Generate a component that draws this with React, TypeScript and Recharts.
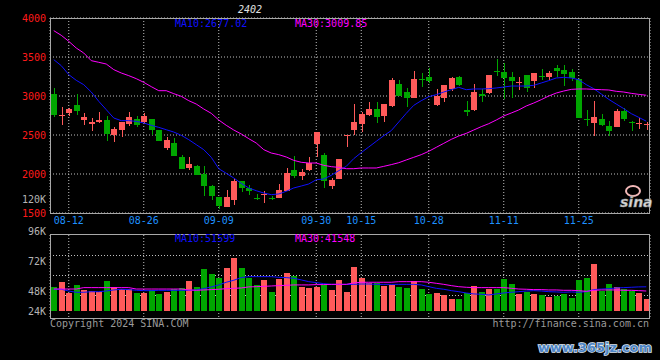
import React from "react";
import { ComposedChart, Bar, Line, XAxis, YAxis, CartesianGrid } from "recharts";

const dates = [
  "08-08", "08-09", "08-12", "08-13", "08-14", "08-15", "08-16", "08-19", "08-20", "08-21",
  "08-22", "08-23", "08-26", "08-27", "08-28", "08-29", "08-30", "09-02", "09-03", "09-04",
  "09-05", "09-06", "09-09", "09-10", "09-11", "09-12", "09-13", "09-18", "09-19", "09-20",
  "09-23", "09-24", "09-25", "09-26", "09-27", "09-30", "10-08", "10-09", "10-10", "10-11",
  "10-14", "10-15", "10-16", "10-17", "10-18", "10-21", "10-22", "10-23", "10-24", "10-25",
  "10-28", "10-29", "10-30", "10-31", "11-01", "11-04", "11-05", "11-06", "11-07", "11-08",
  "11-11", "11-12", "11-13", "11-14", "11-15", "11-18", "11-19", "11-20", "11-21", "11-22",
  "11-25", "11-26", "11-27", "11-28", "11-29", "12-02", "12-03", "12-04", "12-05", "12-06",
];

const opens = [
  3030, 2750, 2787, 2889, 2697, 2645, 2667, 2697, 2496, 2568,
  2645, 2709, 2662, 2709, 2568, 2338, 2402, 2222, 2081, 2107,
  2004, 1850, 1709, 1581, 1671, 1915, 1816, 1697, 1735, 1697,
  1688, 1778, 2056, 1970, 2056, 2389, 2248, 1842, 1932, 2491,
  2560, 2645, 2761, 2838, 2748, 2868, 3158, 3056, 2970, 3222,
  3248, 2889, 2970, 3094, 3248, 2825, 2825, 3030, 3038, 3325,
  3312, 3248, 3171, 3273, 3188, 3256, 3248, 3363, 3338, 3312,
  3222, 2701, 2650, 2709, 2611, 2598, 2812, 2671, 2645, 2632,
];
const highs = [
  3107, 2859, 2850, 3030, 2786, 2722, 2799, 2748, 2607, 2671,
  2799, 2748, 2786, 2709, 2568, 2479, 2466, 2248, 2222, 2120,
  2107, 1863, 1709, 1799, 1953, 1915, 1863, 1748, 1786, 1722,
  1876, 2081, 2235, 2068, 2222, 2543, 2274, 1953, 2197, 2500,
  2902, 2799, 2927, 2927, 2902, 3235, 3209, 3107, 3325, 3299,
  3363, 3094, 3145, 3248, 3261, 2940, 3158, 3094, 3273, 3479,
  3427, 3312, 3248, 3273, 3299, 3350, 3325, 3402, 3402, 3350,
  3222, 2825, 2940, 2774, 2684, 2838, 2850, 2684, 2722, 2662,
];
const lows = [
  2727, 2624, 2739, 2761, 2624, 2556, 2658, 2427, 2406, 2470,
  2620, 2603, 2645, 2504, 2419, 2312, 2235, 2068, 2056, 1991,
  1714, 1671, 1556, 1581, 1607, 1765, 1735, 1662, 1632, 1671,
  1688, 1778, 1944, 1919, 2043, 2222, 1816, 1803, 1932, 2342,
  2496, 2543, 2748, 2650, 2671, 2855, 3004, 2855, 2970, 3120,
  3171, 2876, 2927, 3068, 3133, 2739, 2803, 2927, 3030, 3256,
  2962, 2974, 3077, 3051, 3107, 3201, 3209, 3248, 3128, 3197,
  2714, 2611, 2483, 2611, 2483, 2598, 2675, 2547, 2573, 2560,
];
const closes = [
  2752, 2755, 2838, 2812, 2735, 2671, 2688, 2517, 2581, 2662,
  2735, 2632, 2748, 2568, 2419, 2440, 2235, 2068, 2132, 1991,
  1842, 1722, 1594, 1709, 1915, 1816, 1778, 1692, 1748, 1688,
  1799, 2017, 1979, 2030, 2145, 2543, 1915, 1927, 2197, 2500,
  2662, 2774, 2838, 2726, 2902, 3209, 3004, 2979, 3222, 3209,
  3197, 3004, 3145, 3235, 3145, 2791, 3056, 3004, 3273, 3312,
  3235, 3197, 3184, 3107, 3299, 3244, 3299, 3325, 3286, 3235,
  2714, 2692, 2735, 2624, 2547, 2812, 2701, 2658, 2654, 2641,
];
const ma10 = [
  3466, 3389, 3274, 3201, 3145, 3051, 2932, 2825, 2718, 2684,
  2684, 2675, 2654, 2624, 2598, 2568, 2538, 2496, 2440, 2376,
  2312, 2214, 2068, 2009, 1949, 1880, 1821, 1786, 1756, 1735,
  1744, 1778, 1821, 1846, 1872, 1927, 1936, 1983, 2043, 2098,
  2197, 2274, 2346, 2419, 2491, 2556, 2667, 2778, 2880, 2940,
  2991, 3017, 3051, 3081, 3111, 3081, 3090, 3090, 3094, 3103,
  3115, 3128, 3128, 3128, 3137, 3167, 3197, 3231, 3239, 3231,
  3209, 3145, 3094, 3026, 2957, 2897, 2838, 2774, 2726, 2677,
];
const ma30 = [
  3838, 3778, 3701, 3615, 3551, 3453, 3432, 3410, 3338, 3295,
  3261, 3222, 3175, 3120, 3068, 3068, 3030, 2996, 2940, 2897,
  2833, 2778, 2692, 2624, 2564, 2513, 2453, 2397, 2312, 2269,
  2248, 2218, 2175, 2150, 2141, 2141, 2111, 2094, 2085, 2068,
  2068, 2077, 2077, 2077, 2098, 2120, 2145, 2180, 2214, 2248,
  2291, 2342, 2393, 2444, 2487, 2521, 2564, 2607, 2645, 2692,
  2744, 2782, 2821, 2872, 2910, 2953, 3000, 3038, 3064, 3085,
  3090, 3090, 3085, 3081, 3077, 3060, 3051, 3034, 3021, 3010,
];
const volumes = [
  51200, 55500, 46000, 52900, 48600, 47700, 46900, 56300, 51200, 49500,
  49500, 46000, 46000, 48600, 45200, 46900, 49500, 50300, 56300, 51200,
  66600, 62300, 58900, 67500, 76000, 67500, 58900, 52900, 57200, 46900,
  58000, 63200, 60600, 51200, 50300, 51200, 52900, 48600, 57200, 46900,
  68300, 58900, 54600, 54600, 52000, 52900, 51200, 50300, 56300, 49500,
  45200, 46000, 44300, 40900, 40900, 46000, 52000, 46900, 49500, 49500,
  58000, 53700, 45200, 46900, 45200, 44300, 42600, 43500, 45200, 41700,
  57200, 58900, 70900, 47700, 53700, 51200, 49500, 47700, 46000, 40900,
];
const volMa10 = [
  49500, 49500, 48000, 46900, 46900, 47400, 47400, 48000, 48900, 49500,
  49200, 48600, 48300, 48300, 48600, 48600, 48600, 48600, 48600, 48900,
  50000, 51500, 53200, 55500, 57200, 59500, 60300, 60300, 60300, 60300,
  59700, 59500, 58900, 57500, 56000, 55200, 54300, 53700, 53700, 53700,
  53700, 54000, 54000, 53700, 53700, 53700, 53700, 53700, 53700, 53200,
  51700, 50300, 49500, 48300, 47400, 46300, 45500, 45200, 44600, 45500,
  46300, 46900, 47400, 48000, 48300, 48000, 47400, 47200, 46900, 47200,
  46900, 47400, 49200, 49700, 50000, 50600, 50900, 51200, 51500, 51600,
];
const volMa30 = [
  49700, 49700, 49700, 49700, 50900, 50900, 50900, 50900, 50900, 50900,
  50900, 49700, 49700, 49700, 49700, 49700, 49700, 49700, 48900, 48600,
  48900, 49200, 49500, 50000, 50300, 50600, 51500, 51700, 52000, 52300,
  52600, 52900, 53200, 53200, 53200, 53500, 53500, 53700, 53700, 53700,
  54900, 55500, 55500, 55500, 55500, 55500, 56000, 56000, 56000, 56000,
  55500, 54600, 53700, 52600, 51700, 51200, 50900, 50900, 50900, 50900,
  50900, 50300, 49700, 49500, 49200, 49200, 48900, 48900, 48600, 48600,
  48300, 47700, 48600, 48900, 48900, 48900, 48600, 48600, 48300, 48000,
];

const dateTicks = ["08-12", "08-26", "09-09", "09-30", "10-15", "10-28", "11-11", "11-25"];
const priceTicks = [1500, 2000, 2500, 3000, 3500, 4000];
const volTicks = [24000, 48000, 72000, 96000];
const VOL_BASE = 30900; // sina draws the bars a little above the panel floor

const RED = "#ff5a5a";
const GREEN = "#00a600";
const GRID = "#c0c0c0";
const FRAME = "#a8a8a8";
const MONO = '"DejaVu Sans Mono", monospace';

const data = dates.map((date, i) => ({
  date,
  open: opens[i],
  high: highs[i],
  low: lows[i],
  close: closes[i],
  ma10: ma10[i],
  ma30: ma30[i],
  vol: volumes[i],
  vma10: volMa10[i],
  vma30: volMa30[i],
}));

const Candle = (props: any) => {
  const { x, y, width, height, payload } = props;
  if (!payload || x == null) return null;
  const { open, close, high, low } = payload;
  const color = close >= open ? RED : GREEN;
  let top = y;
  let h = height;
  if (h < 0) {
    top = y + h;
    h = -h;
  }
  const k = high > low ? h / (high - low) : 0;
  const py = (v: number) => top + (high - v) * k;
  const bTop = Math.round(py(Math.max(open, close)));
  const bBot = Math.round(py(Math.min(open, close)));
  const rx = Math.round(x);
  const w = Math.round(width);
  const wx = rx + Math.floor(w / 2) + 0.5;
  return (
    <g shapeRendering="crispEdges">
      <line x1={wx} x2={wx} y1={Math.round(top)} y2={Math.round(top + h)} stroke={color} strokeWidth={1} />
      <rect x={rx} y={bTop} width={w} height={Math.max(bBot - bTop, 1)} fill={color} />
    </g>
  );
};

const VolBar = (props: any) => {
  const { x, y, width, height, payload } = props;
  if (!payload || x == null) return null;
  let top = y;
  let h = height;
  if (h < 0) {
    top = y + h;
    h = -h;
  }
  const color = payload.close >= payload.open ? RED : GREEN;
  const t = Math.round(top);
  return (
    <rect
      x={Math.round(x)}
      y={t}
      width={Math.round(width)}
      height={Math.round(top + h) - t}
      fill={color}
      shapeRendering="crispEdges"
    />
  );
};

// sina prints the outer volume labels a bit inside the panel
const VolTick = (props: any) => {
  const { x, y, payload } = props;
  const v = payload.value;
  const shift = v === 24000 ? -8 : v === 96000 ? -4 : v === 72000 ? -2 : 0;
  return (
    <text x={x} y={y + shift} dy="0.355em" textAnchor="end" fill="#b4b4b4" fontFamily={MONO} fontSize={10}>
      {`${v / 1000}K`}
    </text>
  );
};

export default function App() {
  const txt = { fontFamily: MONO, fontSize: 10 };
  return (
    <div style={{ position: "fixed", left: 0, top: 0, width: 660, height: 360, background: "#000", overflow: "hidden" }}>
      <div style={{ position: "absolute", left: 0, top: 0 }}>
        <ComposedChart width={660} height={230} data={data} margin={{ top: 18, right: 10, bottom: 0, left: 0 }}>
          <CartesianGrid stroke={GRID} strokeDasharray="1 2" />
          <XAxis
            dataKey="date"
            ticks={dateTicks}
            interval={0}
            height={17}
            tickLine={false}
            axisLine={false}
            tickSize={0}
            tickMargin={4}
            tick={{ ...txt, fill: "#1e90ff" }}
          />
          <YAxis
            domain={[1500, 4000]}
            ticks={priceTicks}
            width={50}
            tickLine={false}
            axisLine={false}
            tickSize={0}
            tickMargin={4}
            tick={{ ...txt, fill: "#ff1a1a" }}
            allowDataOverflow
          />
          <Bar dataKey={(d: any) => [d.low, d.high]} barSize={6} shape={<Candle />} isAnimationActive={false} />
          <Line dataKey="ma10" stroke="#1010ff" strokeWidth={1} dot={false} isAnimationActive={false} />
          <Line dataKey="ma30" stroke="#ff00ff" strokeWidth={1} dot={false} isAnimationActive={false} />
        </ComposedChart>
      </div>
      <div style={{ position: "absolute", left: 0, top: 220 }}>
        <ComposedChart width={660} height={110} data={data} margin={{ top: 15, right: 10, bottom: 11, left: 0 }}>
          <CartesianGrid stroke={GRID} strokeDasharray="1 2" horizontalPoints={[35.5, 55.5, 75.5]} />
          <XAxis dataKey="date" ticks={dateTicks} interval={0} hide />
          <YAxis
            domain={[24000, 96000]}
            ticks={volTicks}
            width={50}
            tickLine={false}
            axisLine={false}
            tickSize={0}
            tickMargin={4}
            tick={<VolTick />}
            allowDataOverflow
          />
          <Bar dataKey={(d: any) => [VOL_BASE, d.vol]} barSize={6} shape={<VolBar />} isAnimationActive={false} />
          <Line dataKey="vma10" stroke="#1010ff" strokeWidth={1} dot={false} isAnimationActive={false} />
          <Line dataKey="vma30" stroke="#ff00ff" strokeWidth={1} dot={false} isAnimationActive={false} />
        </ComposedChart>
      </div>
      <svg width={660} height={360} style={{ position: "absolute", left: 0, top: 0, pointerEvents: "none" }}>
        <rect x={50.5} y={18.5} width={599} height={195} fill="none" stroke={FRAME} />
        <rect x={50.5} y={234.5} width={599} height={84} fill="none" stroke={FRAME} />
        <text x={238} y={13} fill="#e0e0e0" fontStyle="italic" {...txt}>2402</text>
        <text x={175} y={27} fill="#1010ff" {...txt}>MA10:2677.02</text>
        <text x={295} y={27} fill="#ff00ff" {...txt}>MA30:3009.85</text>
        <text x={46} y={203} fill="#b4b4b4" textAnchor="end" {...txt}>120K</text>
        <text x={175} y={242} fill="#1010ff" {...txt}>MA10:51599</text>
        <text x={295} y={242} fill="#ff00ff" {...txt}>MA30:41548</text>
        <text x={50} y={327} fill="#9a9a9a" {...txt}>Copyright 2024 SINA.COM</text>
        <text x={649} y={327} fill="#9a9a9a" textAnchor="end" {...txt}>http://finance.sina.com.cn</text>
        <ellipse cx={633} cy={191} rx={7} ry={5} fill="none" stroke="#f2b8b8" strokeWidth={2} />
        <text x={620} y={207} fill="#d8d8d8" stroke="#888" strokeWidth={0.5} fontFamily="DejaVu Sans" fontWeight="bold" fontStyle="italic" fontSize={14}>sina</text>
        <text
          x={538}
          y={352}
          fill="#4f86c6"
          stroke="#dfe8f2"
          strokeWidth={1.5}
          paintOrder="stroke"
          fontFamily="DejaVu Sans"
          fontWeight="bold"
          fontSize={13}
          textLength={114}
          lengthAdjust="spacingAndGlyphs"
        >
          www.365jz.com
        </text>
      </svg>
    </div>
  );
}
